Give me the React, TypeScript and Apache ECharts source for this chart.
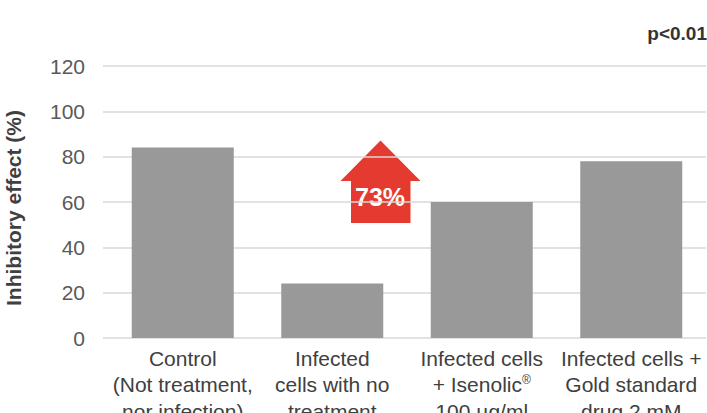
import React, { useEffect, useRef } from "react";
import * as echarts from "echarts";

const categories = [
  "Control\n(Not treatment,\nnor infection)",
  "Infected\ncells with no\ntreatment",
  "Infected cells\n+ Isenolic{sup|®}\n100 µg/ml",
  "Infected cells +\nGold standard\ndrug 2 mM",
];
const values = [84, 24, 60, 78];
const yTicks = { min: 0, max: 120, interval: 20 };
const yAxisTitle = "Inhibitory effect (%)";
const pValueText = "p<0.01";
const arrowText = "73%";

const FONT = "'Liberation Sans', Arial, sans-serif";

export default function App() {
  const ref = useRef<HTMLDivElement>(null);
  useEffect(() => {
    if (!ref.current) return;
    const chart = echarts.init(ref.current, null, { renderer: "svg" });
    chart.setOption({
      animation: false,
      grid: { left: 108, right: 1, top: 66, bottom: 75, outerBoundsMode: "none", containLabel: false },
      xAxis: {
        type: "category",
        data: categories,
        axisLine: { show: false },
        axisTick: { show: false },
        axisLabel: {
          interval: 0,
          margin: 7,
          color: "#404040",
          fontFamily: FONT,
          fontSize: 21,
          lineHeight: 26.5,
          rich: {
            sup: { fontSize: 12, fontFamily: FONT, color: "#404040", padding: [0, 0, 9, 0] },
          },
        },
      },
      yAxis: {
        type: "value",
        min: yTicks.min,
        max: yTicks.max,
        interval: yTicks.interval,
        axisLine: { show: false },
        axisTick: { show: true, length: 5, lineStyle: { color: "#d9d9d9", width: 1.5 } },
        splitLine: { lineStyle: { color: "#d9d9d9", width: 1.5 } },
        axisLabel: { margin: 23, color: "#595959", fontFamily: FONT, fontSize: 21 },
      },
      series: [
        {
          type: "bar",
          data: values,
          barWidth: 102,
          itemStyle: { color: "#999999" },
        },
      ],
      graphic: [
        {
          type: "text",
          x: 13,
          y: 208,
          rotation: Math.PI / 2,
          style: {
            text: yAxisTitle,
            font: `bold 21px ${FONT}`,
            fill: "#404040",
            align: "center",
            verticalAlign: "middle",
          },
        },
        {
          type: "text",
          x: 707,
          y: 33,
          style: {
            text: pValueText,
            font: `bold 19px ${FONT}`,
            fill: "#333333",
            align: "right",
            verticalAlign: "middle",
          },
        },
        {
          type: "polygon",
          shape: {
            points: [
              [380.5, 140.5],
              [420.5, 181],
              [410.5, 181],
              [410.5, 223],
              [351, 223],
              [351, 181],
              [340.5, 181],
            ],
          },
          style: { fill: "#e53a2f" },
        },
        {
          type: "text",
          x: 380,
          y: 197,
          style: {
            text: arrowText,
            font: `bold 25px ${FONT}`,
            fill: "#ffffff",
            align: "center",
            verticalAlign: "middle",
          },
        },
      ],
    });
    return () => chart.dispose();
  }, []);
  return <div ref={ref} style={{ width: 707, height: 413, position: "absolute", left: 0, top: 0 }} />;
}
